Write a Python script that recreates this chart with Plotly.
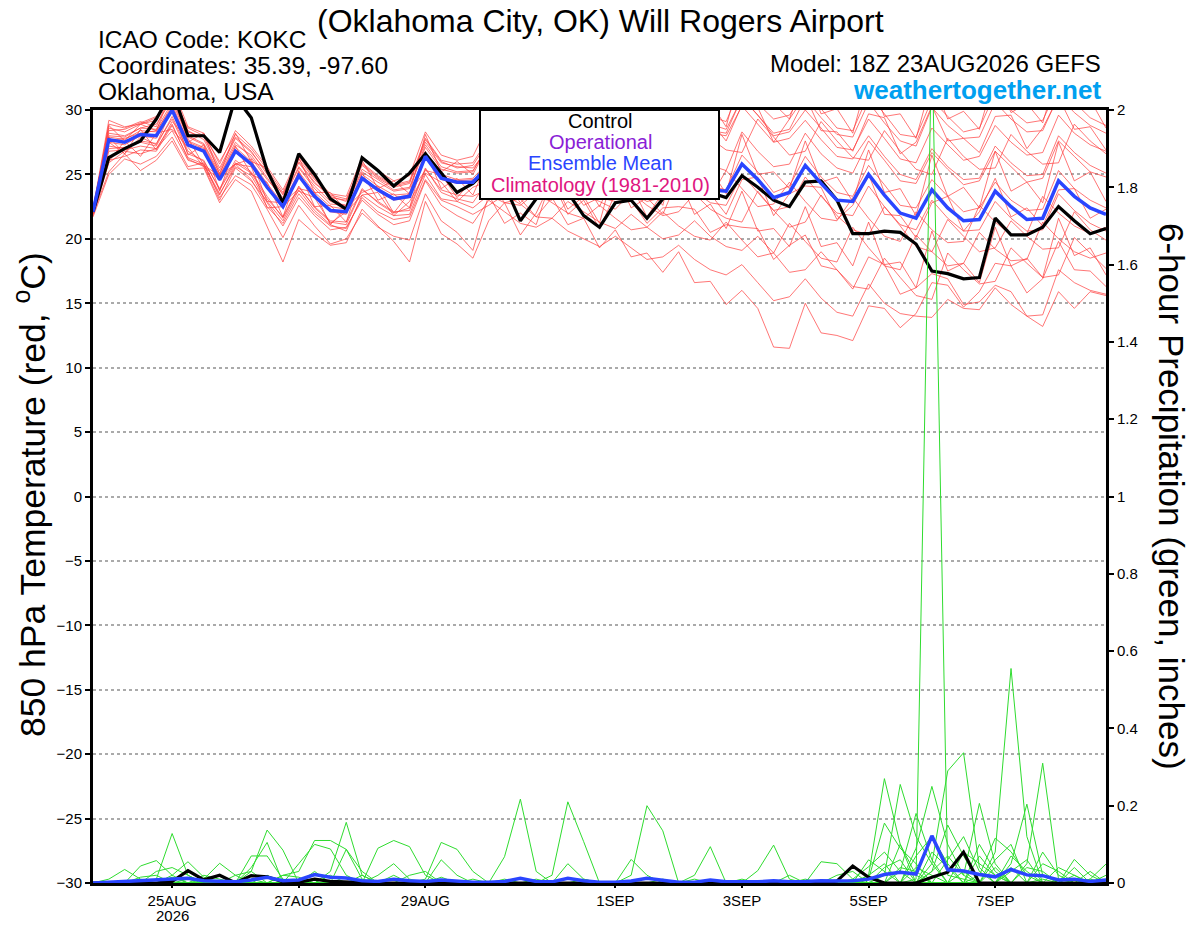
import pandas as pd
import plotly.graph_objects as go

# 6-hourly GEFS steps, 18Z 23AUG2026 -> 18Z 08SEP2026
times = pd.date_range('2026-08-23 18:00', periods=65, freq='6h')

tick_dates = ['2026-08-25', '2026-08-27', '2026-08-29', '2026-09-01',
              '2026-09-03', '2026-09-05', '2026-09-07']
tick_text = ['25AUG', '27AUG', '29AUG', '1SEP', '3SEP', '5SEP', '7SEP']
year_label = '2026'
temp_ticks = [-30, -25, -20, -15, -10, -5, 0, 5, 10, 15, 20, 25, 30]

# 850 hPa temperature (C)
temp_control = [
    22.1, 26.3, 27.0, 27.6, 29.3, 31.5, 28.0, 28.0, 26.7, 31.0, 29.4, 25.3, 22.8,
    26.6, 25.0, 23.1, 22.3, 26.3, 25.3, 24.1, 25.1, 26.6, 25.1, 23.6, 24.3, 25.5,
    24.2, 21.4, 23.1, 24.0, 23.6, 21.8, 20.9, 22.8, 23.0, 21.6, 23.1, 24.2, 24.5,
    23.6, 23.2, 24.9, 24.0, 23.0, 22.5, 24.4, 24.5, 23.0, 20.4, 20.4, 20.6, 20.5,
    19.6, 17.5, 17.3, 16.9, 17.0, 21.6, 20.3, 20.3, 20.9, 22.5, 21.4, 20.4, 20.8]
temp_mean = [
    22.1, 27.7, 27.5, 28.1, 28.0, 30.0, 27.3, 26.8, 24.6, 26.8, 25.8, 24.0, 22.5,
    24.9, 23.3, 22.2, 22.1, 24.7, 23.8, 23.1, 23.3, 26.4, 24.7, 24.4, 24.4, 25.7,
    24.8, 24.0, 24.3, 25.6, 24.7, 24.0, 23.7, 25.3, 24.4, 23.9, 24.1, 25.6, 24.6,
    23.8, 23.7, 25.8, 24.6, 23.2, 23.6, 25.7, 24.3, 23.0, 22.9, 25.0, 23.4, 22.0,
    21.6, 23.8, 22.4, 21.4, 21.5, 23.7, 22.5, 21.5, 21.6, 24.5, 23.3, 22.4, 21.9]

temp_mem_01 = [
    22.0, 28.2, 28.0, 28.6, 28.9, 30.8, 28.0, 27.4, 25.1, 27.5, 26.3, 24.6, 23.2, 25.6, 24.1, 22.9, 22.6, 25.4, 24.6, 23.8, 24.0, 27.3, 25.6, 25.2, 25.3,
    27.2, 26.9, 25.1, 26.6, 28.8, 26.5, 27.3, 25.4, 28.6, 28.9, 26.8, 28.3, 30.9, 28.7, 29.1, 27.6, 30.4, 30.2, 27.5, 29.3,
    31.1, 28.4, 28.3, 26.8, 29.7, 29.4, 26.6, 27.5, 30.3, 27.6, 27.8, 26.7, 29.5, 29.6, 27.0, 28.6, 31.0, 28.5, 28.7, 26.9]
temp_mem_02 = [
    22.3, 27.0, 27.1, 27.5, 27.2, 29.5, 26.8, 26.0, 23.9, 26.1, 25.2, 23.3, 21.6, 24.0, 22.5, 21.4, 21.3, 23.9, 22.8, 22.0, 22.4, 25.5, 23.6, 23.1, 22.8,
    24.6, 22.8, 23.1, 21.7, 23.2, 21.1, 21.6, 19.3, 20.7, 18.6, 18.9, 17.4, 19.0, 16.6, 16.7, 14.9, 16.0, 14.6, 11.6, 11.5,
    15.0, 12.7, 12.5, 12.1, 14.8, 14.6, 13.1, 14.2, 16.6, 16.4, 14.7, 15.9, 18.1, 17.9, 15.8, 16.9, 19.8, 17.6, 17.5, 16.3]
temp_mem_03 = [
    22.0, 26.0, 27.6, 26.4, 28.2, 28.5, 27.1, 25.6, 24.6, 25.8, 25.6, 22.4, 22.5, 23.7, 23.2, 21.2, 22.1, 23.4, 23.6, 21.8, 22.9, 25.1, 24.4, 22.9, 24.0,
    24.5, 24.6, 22.8, 23.9, 24.1, 24.3, 22.6, 23.2, 22.9, 23.0, 21.2, 22.4, 22.5, 22.3, 20.5, 21.1, 20.9, 20.8, 18.4, 19.5,
    20.3, 17.9, 17.6, 16.1, 18.6, 18.0, 15.7, 16.2, 17.3, 16.9, 14.9, 15.1, 16.4, 15.9, 14.0, 13.2, 15.9, 14.6, 15.9, 15.6]
temp_mem_04 = [
    21.8, 25.9, 26.8, 26.6, 27.0, 28.4, 26.1, 25.7, 23.4, 25.8, 24.6, 22.5, 21.2, 23.5, 22.0, 21.0, 20.8, 23.2, 22.1, 21.5, 21.7, 24.6, 23.0, 22.5, 21.9,
    22.6, 23.4, 22.7, 21.7, 21.6, 22.9, 22.1, 21.3, 20.8, 21.9, 20.9, 20.0, 20.3, 21.4, 20.2, 19.4, 19.1, 20.2, 18.9, 17.4,
    17.6, 19.0, 17.6, 16.3, 16.1, 18.5, 17.0, 15.6, 15.3, 18.9, 17.6, 16.5, 16.7, 19.3, 18.1, 17.0, 17.2, 20.1, 18.9, 17.7]
temp_mem_05 = [
    22.1, 27.9, 27.7, 28.4, 28.3, 30.4, 27.6, 27.1, 24.9, 27.1, 26.0, 24.3, 22.7, 25.2, 23.6, 22.5, 22.3, 25.0, 24.1, 23.4, 23.5, 26.7, 25.0, 24.6, 24.7,
    26.0, 25.1, 24.5, 24.6, 26.0, 25.2, 24.4, 24.0, 25.8, 24.6, 24.1, 24.4, 26.0, 24.9, 24.1, 23.8, 26.5, 25.2, 23.6, 24.1,
    26.4, 24.8, 23.6, 23.3, 25.7, 24.2, 22.6, 22.4, 24.6, 23.3, 22.1, 22.4, 24.4, 23.0, 22.2, 22.3, 25.3, 23.9, 23.0, 22.4]
temp_mem_06 = [
    22.2, 28.6, 28.3, 28.9, 29.2, 31.2, 28.3, 27.9, 25.5, 27.9, 26.8, 25.0, 23.5, 26.0, 24.4, 23.2, 23.0, 25.9, 24.9, 24.2, 24.5, 27.8, 26.1, 25.8, 25.9,
    27.8, 27.1, 26.1, 26.5, 29.0, 28.0, 27.6, 27.0, 29.8, 28.8, 28.1, 28.4, 31.4, 30.2, 29.5, 29.1, 32.0, 30.5, 29.3, 29.6,
    31.5, 30.1, 28.6, 28.4, 31.2, 29.7, 28.1, 27.9, 30.8, 29.5, 28.3, 28.6, 31.3, 30.0, 29.0, 29.2, 31.8, 30.6, 29.4, 28.8]
temp_mem_07 = [
    22.0, 27.2, 27.0, 27.6, 27.4, 29.3, 26.6, 26.1, 23.8, 25.9, 25.1, 23.1, 21.7, 24.1, 22.4, 21.3, 21.1, 23.8, 22.9, 22.1, 22.2, 25.4, 23.8, 23.4, 23.3,
    23.9, 24.7, 23.8, 23.1, 23.0, 24.4, 23.4, 22.9, 22.3, 23.6, 22.6, 21.8, 22.1, 23.5, 22.3, 21.6, 21.3, 23.7, 22.2, 20.9,
    21.3, 23.4, 21.8, 20.7, 20.3, 22.5, 21.0, 19.4, 19.0, 21.5, 20.2, 19.0, 19.3, 21.4, 20.2, 19.2, 19.3, 22.1, 20.7, 19.9]
temp_mem_08 = [
    22.1, 28.9, 28.6, 29.1, 28.7, 31.5, 28.4, 27.7, 25.3, 27.8, 26.7, 25.2, 23.4, 25.9, 24.3, 23.4, 23.1, 25.8, 24.8, 24.1, 24.4, 27.5, 25.9, 25.6, 25.5,
    27.0, 26.3, 25.4, 25.7, 27.4, 26.5, 25.8, 25.5, 27.3, 26.1, 25.6, 25.9, 27.6, 26.5, 25.7, 25.3, 28.3, 26.8, 25.6, 25.8,
    28.2, 26.6, 25.5, 25.1, 27.6, 26.1, 24.5, 24.3, 26.7, 25.4, 24.2, 24.5, 26.8, 25.6, 24.4, 24.7, 27.6, 26.4, 25.2, 24.8]
temp_mem_09 = [
    21.9, 25.2, 26.6, 25.3, 26.1, 27.6, 25.4, 25.5, 22.8, 24.6, 23.7, 21.0, 18.2, 21.5, 20.4, 19.5, 19.7, 22.3, 21.0, 19.8, 18.2, 22.9, 20.4, 19.6, 18.5,
    21.4, 22.8, 20.3, 22.0, 24.6, 21.9, 23.0, 20.8, 23.5, 24.2, 21.7, 23.6, 25.9, 23.1, 23.5, 21.9, 24.6, 24.8, 21.8, 23.5,
    24.1, 24.0, 21.5, 22.6, 25.0, 21.9, 21.8, 20.1, 22.8, 23.3, 20.6, 22.1, 24.7, 21.7, 22.4, 21.0, 23.8, 23.9, 21.6, 22.3]
temp_mem_10 = [
    22.0, 26.1, 26.4, 26.9, 26.8, 28.8, 26.3, 25.8, 23.5, 25.6, 24.9, 22.8, 21.0, 23.2, 21.8, 20.7, 20.9, 23.0, 21.9, 21.1, 21.4, 24.5, 22.6, 21.8, 21.2,
    23.0, 22.1, 21.2, 20.9, 21.6, 20.6, 20.0, 19.4, 20.2, 19.3, 18.4, 18.6, 19.5, 18.4, 17.6, 17.2, 18.0, 16.6, 15.2, 15.5,
    16.9, 15.4, 14.3, 14.0, 16.5, 15.0, 14.2, 14.0, 13.9, 15.3, 14.6, 14.5, 16.2, 14.9, 14.0, 14.1, 17.6, 16.6, 16.0, 15.7]
temp_mem_11 = [
    22.2, 28.0, 27.9, 28.6, 28.5, 30.6, 27.9, 27.3, 24.9, 27.3, 26.5, 24.7, 23.0, 25.5, 23.9, 22.7, 22.6, 25.2, 24.4, 23.7, 23.9, 27.1, 25.4, 25.1, 25.2,
    27.5, 26.6, 26.0, 26.2, 28.7, 27.8, 27.1, 26.8, 29.4, 28.4, 27.5, 27.8, 30.8, 29.6, 28.9, 28.5, 30.9, 29.6, 28.0, 28.3,
    30.0, 28.6, 27.1, 26.9, 29.3, 27.8, 26.2, 25.9, 28.6, 27.3, 26.1, 26.4, 28.8, 27.5, 26.5, 26.7, 29.6, 28.2, 27.3, 26.8]
temp_mem_12 = [
    21.9, 26.8, 26.9, 27.2, 27.0, 28.9, 26.2, 25.6, 23.0, 25.5, 24.5, 22.9, 21.4, 23.8, 22.2, 21.1, 20.6, 23.4, 22.5, 21.8, 21.9, 25.0, 23.1, 22.9, 22.4,
    23.4, 22.8, 22.6, 23.6, 22.8, 22.0, 21.6, 22.6, 21.6, 20.7, 20.9, 22.1, 21.0, 20.2, 19.9, 21.3, 19.9, 18.6, 18.9, 21.2,
    19.8, 18.5, 18.2, 20.9, 19.3, 17.9, 17.6, 20.3, 19.0, 17.9, 18.1, 20.5, 19.2, 18.3, 18.4, 21.3, 20.0, 19.0, 18.5, 18.9]
temp_mem_13 = [
    22.3, 29.2, 28.7, 28.9, 29.4, 31.8, 28.7, 28.2, 25.8, 28.4, 27.2, 25.6, 23.8, 26.4, 24.7, 23.5, 23.3, 26.3, 25.3, 24.5, 24.9, 28.3, 26.5, 26.1, 26.4,
    28.9, 26.8, 27.4, 26.4, 30.5, 28.0, 29.1, 26.9, 31.3, 28.5, 29.6, 28.3, 32.5, 29.8, 30.6, 28.7, 33.3, 30.2, 30.5, 29.3,
    32.9, 29.7, 30.1, 28.2, 32.7, 29.5, 29.7, 27.8, 32.3, 29.3, 29.9, 28.5, 32.8, 29.8, 30.5, 29.0, 33.2, 30.3, 30.8, 28.6]
temp_mem_14 = [
    22.1, 27.9, 26.6, 28.5, 26.9, 29.1, 27.8, 25.7, 24.9, 25.8, 26.2, 22.9, 22.8, 23.9, 23.6, 21.1, 22.4, 23.6, 24.1, 22.0, 23.6, 25.3, 25.0, 23.2, 24.6,
    25.2, 24.4, 23.6, 23.8, 25.1, 24.2, 23.6, 23.1, 24.7, 23.6, 22.9, 23.2, 24.8, 23.7, 22.8, 22.6, 25.0, 23.6, 22.2, 22.5,
    24.8, 23.3, 22.0, 21.8, 24.1, 22.5, 21.1, 20.7, 23.0, 21.6, 20.6, 20.7, 22.9, 21.6, 20.6, 20.7, 23.5, 22.2, 21.2, 20.6]
temp_mem_15 = [
    22.0, 27.6, 27.8, 28.2, 28.4, 30.2, 27.5, 27.0, 24.7, 26.9, 25.9, 24.1, 22.6, 25.0, 23.4, 22.3, 22.0, 24.8, 23.9, 23.2, 23.4, 26.5, 24.8, 24.5, 24.6,
    25.2, 26.4, 25.6, 24.8, 25.1, 27.2, 26.3, 25.7, 25.2, 27.8, 26.7, 26.0, 26.3, 28.9, 27.8, 26.9, 26.7, 29.3, 27.9, 26.5,
    26.8, 29.1, 27.6, 26.3, 26.1, 28.4, 26.8, 25.4, 25.0, 27.8, 26.4, 25.4, 25.5, 28.1, 26.8, 25.8, 25.9, 28.9, 27.6, 26.6]
temp_mem_16 = [
    21.7, 25.0, 26.2, 25.8, 26.4, 27.9, 25.6, 25.9, 23.2, 24.9, 24.2, 22.3, 20.1, 22.6, 21.0, 19.6, 20.0, 22.0, 20.9, 20.2, 19.9, 23.5, 21.4, 20.5, 19.1,
    23.4, 21.2, 22.0, 21.1, 24.8, 22.3, 23.3, 21.2, 25.8, 23.1, 24.0, 22.6, 27.5, 24.7, 25.4, 23.5, 28.1, 25.0, 25.2, 23.9,
    27.6, 24.4, 24.8, 22.9, 26.9, 23.6, 23.9, 21.8, 26.5, 23.3, 24.0, 22.4, 26.8, 23.7, 24.4, 22.8, 27.5, 24.5, 25.2, 22.9]
temp_mem_17 = [
    22.4, 28.4, 28.5, 29.0, 29.5, 31.0, 28.6, 28.0, 26.0, 28.1, 27.0, 25.4, 23.6, 26.2, 24.6, 23.3, 22.9, 25.7, 24.7, 24.0, 24.3, 27.7, 26.0, 25.5, 25.7,
    27.6, 26.8, 26.1, 26.4, 28.6, 27.7, 27.1, 26.6, 29.5, 28.4, 27.7, 28.0, 30.4, 29.3, 28.4, 28.2, 31.0, 29.6, 28.2, 28.5,
    30.9, 29.4, 28.1, 27.9, 30.6, 29.0, 27.6, 27.2, 30.2, 28.8, 27.8, 27.9, 30.6, 29.3, 28.3, 28.4, 31.1, 29.8, 28.8, 28.2]
temp_mem_18 = [
    22.0, 27.5, 26.6, 27.9, 27.3, 30.2, 26.5, 27.3, 23.7, 27.2, 25.0, 24.4, 21.7, 25.3, 22.5, 22.6, 21.3, 25.1, 23.0, 23.5, 22.4, 26.8, 23.9, 24.7, 23.4,
    26.2, 24.0, 24.6, 23.1, 26.1, 23.6, 24.5, 22.5, 25.1, 22.4, 23.2, 21.9, 24.8, 21.9, 22.7, 20.8, 23.7, 20.6, 20.8, 19.4,
    22.5, 19.4, 19.7, 17.9, 21.3, 18.0, 18.2, 16.2, 20.6, 17.5, 18.1, 16.6, 20.9, 17.9, 18.5, 17.0, 21.6, 18.7, 19.3, 17.2]
temp_mem_19 = [
    22.1, 27.5, 27.3, 28.0, 27.8, 30.1, 27.2, 26.9, 24.5, 26.7, 25.8, 23.9, 22.4, 24.8, 23.2, 22.1, 21.9, 24.6, 23.7, 23.0, 23.2, 26.3, 24.6, 24.3, 24.3,
    25.0, 24.2, 24.4, 25.8, 24.9, 24.3, 23.8, 25.4, 24.3, 23.6, 23.9, 25.4, 24.3, 23.4, 23.2, 25.3, 23.9, 22.5, 22.7, 24.4,
    22.9, 21.6, 21.4, 23.2, 21.6, 20.2, 19.8, 22.1, 20.7, 19.7, 19.8, 22.6, 21.3, 20.3, 20.4, 23.3, 22.0, 21.0, 20.4, 20.9]
temp_mem_20 = [
    22.2, 28.8, 27.6, 28.9, 28.4, 31.5, 27.5, 28.2, 25.0, 28.2, 26.0, 25.5, 22.7, 26.3, 23.6, 23.6, 22.2, 26.1, 23.9, 24.5, 23.5, 28.1, 25.2, 26.0, 25.0,
    27.3, 26.5, 25.7, 26.0, 28.5, 27.6, 27.0, 26.5, 29.1, 28.0, 27.3, 27.6, 30.2, 29.1, 28.2, 28.0, 30.3, 28.9, 27.5, 27.8,
    29.2, 27.7, 26.4, 26.2, 28.0, 26.4, 25.0, 24.6, 27.0, 25.6, 24.6, 24.7, 27.2, 25.9, 24.9, 25.0, 28.0, 26.7, 25.7, 25.1]

# 6-hour precipitation (inches)
precip_control = [
    0, 0, 0, 0, 0, 0.004, 0.032, 0.008, 0.02, 0, 0.019, 0.016, 0.003,
    0.002, 0.01, 0.004, 0.002, 0, 0, 0, 0, 0, 0, 0, 0, 0,
    0, 0, 0, 0, 0, 0, 0, 0, 0, 0, 0, 0, 0,
    0, 0, 0, 0, 0, 0, 0, 0, 0.005, 0.044, 0.015, 0, 0,
    0, 0.015, 0.028, 0.08, 0, 0, 0, 0, 0, 0, 0, 0, 0]
precip_mean = [
    0.0, 0.002, 0.004, 0.006, 0.008, 0.012, 0.012, 0.006, 0.005, 0.003, 0.008, 0.015, 0.006,
    0.008, 0.022, 0.015, 0.013, 0.006, 0.004, 0.01, 0.006, 0.004, 0.008, 0.004, 0.002, 0.002,
    0.004, 0.012, 0.004, 0.003, 0.012, 0.006, 0.002, 0.002, 0.005, 0.012, 0.008, 0.002, 0.002,
    0.008, 0.003, 0.003, 0.003, 0.006, 0.003, 0.004, 0.006, 0.005, 0.006, 0.01, 0.022, 0.028,
    0.023, 0.122, 0.034, 0.031, 0.022, 0.016, 0.035, 0.021, 0.019, 0.008, 0.01, 0.004, 0.008]

precip_mem_01 = [
    0, 0, 0, 0, 0, 0, 0, 0, 0, 0, 0.07, 0.07, 0.01,
    0, 0, 0, 0, 0, 0, 0, 0, 0, 0, 0, 0, 0,
    0.068, 0.217, 0.03, 0, 0, 0, 0, 0, 0, 0, 0, 0, 0,
    0, 0, 0, 0, 0, 0, 0, 0, 0, 0, 0, 0, 0,
    0.01, 2.2, 0.02, 0.01, 0, 0, 0, 0, 0, 0, 0, 0, 0]
precip_mem_02 = [
    0, 0, 0, 0, 0.01, 0.128, 0.02, 0, 0, 0, 0, 0, 0,
    0, 0, 0, 0, 0, 0, 0, 0, 0, 0, 0, 0, 0,
    0, 0, 0, 0.02, 0.21, 0.107, 0, 0, 0, 0, 0, 0, 0,
    0, 0, 0, 0, 0, 0, 0, 0, 0, 0, 0.02, 0.27, 0.1,
    0, 0, 0, 0, 0, 0.08, 0.555, 0.12, 0, 0, 0, 0, 0]
precip_mem_03 = [
    0, 0, 0, 0, 0, 0, 0, 0, 0, 0, 0, 0, 0,
    0, 0, 0.03, 0.157, 0.02, 0, 0, 0, 0, 0, 0, 0, 0,
    0, 0, 0, 0, 0, 0, 0, 0, 0.02, 0.2, 0.135, 0, 0,
    0, 0, 0, 0, 0, 0, 0, 0, 0, 0, 0, 0.02, 0.255,
    0.12, 0.05, 0, 0, 0, 0, 0, 0.05, 0.31, 0.01, 0, 0, 0]
precip_mem_04 = [
    0, 0, 0, 0, 0, 0, 0, 0, 0, 0, 0, 0, 0.02,
    0.03, 0.11, 0.11, 0.087, 0.01, 0, 0, 0, 0, 0, 0, 0, 0,
    0, 0, 0, 0, 0, 0, 0, 0, 0, 0, 0, 0, 0.02,
    0.094, 0, 0, 0, 0, 0, 0, 0, 0, 0, 0, 0, 0,
    0, 0.05, 0.29, 0.337, 0.04, 0, 0, 0, 0, 0, 0, 0, 0]
precip_mem_05 = [
    0, 0, 0, 0, 0, 0, 0, 0, 0, 0, 0, 0, 0,
    0, 0, 0, 0, 0, 0.09, 0.11, 0.094, 0.02, 0, 0, 0, 0,
    0, 0, 0, 0, 0, 0, 0, 0, 0, 0, 0, 0, 0,
    0, 0, 0, 0.032, 0.098, 0.01, 0, 0, 0, 0, 0, 0, 0.03,
    0.18, 0.06, 0, 0, 0, 0, 0.05, 0.204, 0.02, 0, 0, 0, 0]
precip_mem_06 = [
    0, 0, 0, 0, 0, 0, 0, 0, 0, 0, 0.03, 0.137, 0.085,
    0, 0, 0, 0, 0, 0, 0, 0, 0.01, 0.105, 0.087, 0.03, 0,
    0, 0, 0, 0, 0, 0, 0, 0, 0, 0, 0, 0, 0,
    0, 0, 0, 0, 0, 0, 0, 0, 0, 0, 0, 0, 0,
    0.09, 0.25, 0.1, 0.02, 0.206, 0.05, 0, 0, 0, 0, 0, 0, 0]
precip_mem_07 = [
    0, 0, 0, 0, 0, 0, 0, 0.01, 0.051, 0.02, 0, 0, 0,
    0, 0, 0, 0, 0, 0, 0, 0, 0, 0, 0, 0, 0,
    0, 0, 0, 0, 0, 0, 0, 0, 0.061, 0.02, 0, 0, 0,
    0, 0, 0, 0, 0, 0, 0, 0, 0, 0, 0.01, 0.155, 0.09,
    0.05, 0, 0, 0, 0.02, 0.116, 0.081, 0.02, 0, 0, 0.061, 0.02, 0]
precip_mem_08 = [
    0, 0, 0, 0, 0, 0.02, 0.055, 0.015, 0, 0, 0.04, 0.105, 0,
    0, 0, 0, 0, 0, 0, 0, 0, 0, 0, 0, 0, 0,
    0, 0, 0, 0, 0, 0, 0, 0, 0, 0, 0, 0, 0,
    0, 0, 0, 0, 0, 0, 0, 0.055, 0.05, 0.01, 0, 0, 0,
    0, 0.03, 0.15, 0.07, 0, 0, 0, 0, 0, 0, 0, 0.01, 0.049]
precip_mem_09 = [
    0, 0, 0, 0.044, 0.058, 0.02, 0, 0, 0, 0, 0, 0, 0,
    0, 0, 0, 0, 0, 0.02, 0.05, 0.01, 0, 0, 0, 0, 0,
    0, 0, 0, 0, 0, 0, 0, 0, 0, 0, 0, 0, 0,
    0, 0, 0, 0, 0, 0, 0, 0, 0, 0.01, 0.042, 0.08, 0.03,
    0, 0, 0, 0, 0, 0, 0, 0, 0.05, 0.03, 0, 0, 0]
precip_mem_10 = [
    0, 0, 0, 0, 0, 0, 0, 0, 0, 0, 0, 0, 0,
    0.05, 0.1, 0.088, 0.02, 0, 0, 0, 0, 0, 0.06, 0.02, 0, 0,
    0, 0, 0, 0, 0, 0, 0, 0, 0, 0, 0, 0, 0,
    0, 0, 0, 0, 0, 0, 0, 0, 0, 0, 0, 0, 0,
    0.07, 0.12, 0.05, 0, 0, 0, 0.03, 0.06, 0, 0, 0, 0, 0]
precip_mem_11 = [
    0, 0.01, 0.035, 0.01, 0, 0, 0, 0, 0, 0, 0, 0, 0,
    0, 0, 0, 0.087, 0.03, 0, 0, 0, 0, 0, 0, 0, 0,
    0, 0, 0, 0, 0.05, 0.01, 0, 0, 0, 0, 0, 0, 0,
    0, 0, 0, 0, 0, 0, 0, 0, 0, 0, 0, 0, 0,
    0, 0, 0, 0.08, 0.05, 0.02, 0, 0, 0.01, 0, 0, 0, 0]
precip_mem_12 = [
    0, 0, 0, 0, 0.03, 0.04, 0.02, 0, 0, 0, 0, 0, 0,
    0, 0, 0, 0, 0, 0, 0, 0, 0, 0, 0, 0.01, 0,
    0, 0, 0, 0, 0, 0, 0, 0, 0, 0, 0, 0, 0.01,
    0, 0, 0, 0, 0, 0, 0, 0, 0, 0, 0, 0.04, 0.06,
    0, 0, 0, 0.03, 0, 0.04, 0, 0, 0, 0, 0.02, 0, 0]
precip_mem_13 = [
    0, 0, 0, 0, 0, 0, 0, 0, 0, 0.02, 0.03, 0, 0,
    0, 0, 0, 0, 0, 0, 0, 0.02, 0.03, 0, 0, 0, 0,
    0, 0, 0, 0, 0, 0, 0, 0, 0, 0, 0, 0, 0,
    0, 0, 0, 0, 0, 0.02, 0, 0, 0, 0, 0.06, 0.03, 0,
    0, 0, 0, 0, 0.1, 0.03, 0, 0, 0, 0, 0, 0.03, 0]
precip_mem_14 = [
    0, 0, 0, 0.015, 0.02, 0, 0, 0, 0, 0, 0, 0, 0.02,
    0.015, 0, 0, 0, 0, 0, 0, 0, 0, 0, 0, 0, 0,
    0, 0, 0, 0, 0, 0, 0, 0, 0, 0, 0.01, 0, 0,
    0, 0, 0, 0, 0, 0, 0, 0, 0.02, 0.03, 0, 0, 0,
    0, 0.08, 0.04, 0, 0, 0, 0, 0, 0, 0.04, 0.02, 0, 0]
precip_mem_15 = [
    0, 0, 0, 0, 0, 0, 0.01, 0, 0, 0, 0, 0, 0,
    0, 0, 0, 0, 0.02, 0, 0, 0, 0, 0, 0, 0, 0,
    0, 0, 0.01, 0, 0, 0, 0, 0, 0, 0, 0, 0, 0,
    0, 0, 0, 0, 0, 0, 0, 0, 0, 0, 0, 0, 0.1,
    0.02, 0, 0, 0, 0, 0, 0.07, 0.03, 0, 0, 0, 0, 0.02]
precip_mem_16 = [
    0, 0, 0, 0, 0, 0, 0, 0, 0, 0, 0, 0.02, 0,
    0, 0, 0, 0, 0, 0, 0.02, 0, 0, 0, 0, 0, 0,
    0, 0, 0, 0, 0, 0, 0, 0, 0, 0, 0, 0, 0,
    0, 0, 0, 0, 0, 0, 0, 0, 0, 0, 0, 0, 0,
    0, 0, 0.06, 0.12, 0.03, 0, 0, 0, 0.08, 0.02, 0, 0, 0]
precip_mem_17 = [
    0, 0, 0, 0, 0, 0, 0, 0.02, 0.01, 0, 0, 0, 0,
    0, 0, 0, 0, 0, 0, 0, 0, 0, 0.015, 0, 0, 0,
    0, 0, 0, 0, 0, 0, 0, 0, 0, 0, 0, 0, 0,
    0, 0, 0, 0, 0, 0, 0.01, 0, 0, 0, 0, 0, 0,
    0.04, 0.02, 0, 0, 0, 0.06, 0.1, 0, 0, 0, 0, 0.01, 0]
precip_mem_18 = [
    0, 0, 0, 0, 0, 0, 0, 0, 0, 0, 0, 0, 0,
    0, 0.03, 0, 0, 0, 0, 0, 0, 0, 0, 0, 0, 0,
    0.01, 0, 0, 0, 0, 0, 0, 0, 0, 0, 0, 0, 0,
    0, 0, 0, 0, 0, 0, 0, 0, 0, 0, 0.02, 0.05, 0,
    0, 0, 0, 0, 0.07, 0.02, 0, 0, 0, 0, 0.04, 0, 0]
precip_mem_19 = [
    0, 0, 0, 0, 0, 0.015, 0, 0, 0, 0, 0.01, 0, 0,
    0, 0, 0, 0, 0, 0, 0, 0, 0, 0, 0, 0, 0,
    0, 0, 0, 0, 0, 0.01, 0, 0, 0, 0, 0, 0, 0,
    0, 0, 0, 0, 0, 0, 0, 0, 0, 0, 0, 0, 0,
    0, 0.03, 0.07, 0.02, 0, 0, 0, 0.04, 0.03, 0, 0, 0, 0]
precip_mem_20 = [
    0, 0, 0, 0, 0, 0, 0, 0, 0.02, 0, 0, 0, 0,
    0, 0, 0.02, 0, 0, 0, 0, 0, 0, 0, 0, 0, 0,
    0, 0, 0, 0, 0, 0, 0, 0, 0, 0, 0, 0, 0,
    0, 0, 0.01, 0, 0, 0, 0, 0, 0, 0, 0, 0, 0.04,
    0.03, 0, 0, 0, 0, 0, 0.04, 0, 0, 0, 0, 0, 0.01]

temp_members = [temp_mem_01, temp_mem_02, temp_mem_03, temp_mem_04, temp_mem_05,
                temp_mem_06, temp_mem_07, temp_mem_08, temp_mem_09, temp_mem_10,
                temp_mem_11, temp_mem_12, temp_mem_13, temp_mem_14, temp_mem_15,
                temp_mem_16, temp_mem_17, temp_mem_18, temp_mem_19, temp_mem_20]
precip_members = [precip_mem_01, precip_mem_02, precip_mem_03, precip_mem_04, precip_mem_05,
                  precip_mem_06, precip_mem_07, precip_mem_08, precip_mem_09, precip_mem_10,
                  precip_mem_11, precip_mem_12, precip_mem_13, precip_mem_14, precip_mem_15,
                  precip_mem_16, precip_mem_17, precip_mem_18, precip_mem_19, precip_mem_20]

for s in temp_members + precip_members + [temp_control, temp_mean, precip_control, precip_mean]:
    assert len(s) == len(times), len(s)

# figure fills the page; the body margin is removed after plotting
FIG_W, FIG_H = 1200, 927
# plot box as seen in the reference picture (page pixels)
BOX_L, BOX_R, BOX_T, BOX_B = 93, 1106, 110, 883
ML, MT = BOX_L, BOX_T
MR, MB = FIG_W - BOX_R, FIG_H - BOX_B


def px(x):
    return (x - BOX_L) / (BOX_R - BOX_L)


def py(y):
    return (BOX_B - y) / (BOX_B - BOX_T)


def main():
    fig = go.Figure()

    for m in temp_members:
        fig.add_trace(go.Scatter(x=times, y=m, mode='lines', yaxis='y',
                                 line=dict(color='rgba(255,60,60,0.7)', width=1),
                                 hoverinfo='skip', showlegend=False))
    for m in precip_members:
        fig.add_trace(go.Scatter(x=times, y=m, mode='lines', yaxis='y2',
                                 line=dict(color='#2fdc2f', width=1),
                                 hoverinfo='skip', showlegend=False))

    fig.add_trace(go.Scatter(x=times, y=temp_control, mode='lines', yaxis='y',
                             line=dict(color='black', width=3.2), name='Control'))
    fig.add_trace(go.Scatter(x=times, y=temp_mean, mode='lines', yaxis='y',
                             line=dict(color='#2a45ff', width=3.5), name='Ensemble Mean'))
    fig.add_trace(go.Scatter(x=times, y=precip_control, mode='lines', yaxis='y2',
                             line=dict(color='black', width=3.2), name='Control'))
    fig.add_trace(go.Scatter(x=times, y=precip_mean, mode='lines', yaxis='y2',
                             line=dict(color='#2a45ff', width=3.5), name='Ensemble Mean'))

    annotations = [
        dict(text='(Oklahoma City, OK) Will Rogers Airport', x=px(600), y=py(21),
             xanchor='center', yanchor='middle', font=dict(size=32)),
        dict(text='ICAO Code: KOKC', x=px(96), y=py(40), xanchor='left', yanchor='middle',
             font=dict(size=24.5)),
        dict(text='Coordinates: 35.39, -97.60', x=px(96), y=py(66), xanchor='left',
             yanchor='middle', font=dict(size=24.5)),
        dict(text='Oklahoma, USA', x=px(96), y=py(92), xanchor='left', yanchor='middle',
             font=dict(size=24.5)),
        dict(text='Model: 18Z 23AUG2026 GEFS', x=px(1103), y=py(63), xanchor='right',
             yanchor='middle', font=dict(size=24)),
        dict(text='<b>weathertogether.net</b>', x=px(1103), y=py(90), xanchor='right',
             yanchor='middle', font=dict(size=26, color='#00a0f0')),
        dict(text='850 hPa Temperature (red, <sup>o</sup>C)', x=px(30), y=py(495),
             textangle=-90, xanchor='center', yanchor='middle', font=dict(size=35.5)),
        dict(text='6-hour Precipitation (green, inches)', x=px(1172), y=py(496),
             textangle=90, xanchor='center', yanchor='middle', font=dict(size=35)),
        dict(text='Control', x=px(600), y=py(121), xanchor='center', yanchor='middle',
             font=dict(size=20, color='black')),
        dict(text='Operational', x=px(600), y=py(142), xanchor='center', yanchor='middle',
             font=dict(size=20, color='#8a1ed6')),
        dict(text='Ensemble Mean', x=px(600), y=py(163), xanchor='center', yanchor='middle',
             font=dict(size=20, color='#2a45ff')),
        dict(text='Climatology (1981-2010)', x=px(600), y=py(185), xanchor='center',
             yanchor='middle', font=dict(size=20, color='#e0167f')),
    ]
    for a in annotations:
        a.update(xref='paper', yref='paper', showarrow=False)
    # year under the first date label
    annotations.append(dict(text=year_label, x=tick_dates[0], xref='x', y=py(915),
                            yref='paper', xanchor='center', yanchor='middle',
                            showarrow=False, font=dict(size=15)))

    fig.update_layout(
        width=FIG_W, height=FIG_H,
        margin=dict(l=ML, r=MR, t=MT, b=MB, autoexpand=False),
        paper_bgcolor='white', plot_bgcolor='white',
        showlegend=False,
        font=dict(family='Liberation Sans, Arial, sans-serif', color='black', size=15),
        xaxis=dict(type='date', range=[times[0], times[-1]],
                   tickvals=tick_dates, ticktext=tick_text,
                   ticks='outside', ticklen=2, tickwidth=1.5, tickcolor='black',
                   showline=True, linecolor='black', linewidth=3, mirror=True,
                   showgrid=False, zeroline=False, automargin=False,
                   tickfont=dict(size=15)),
        yaxis=dict(range=[-30, 30], tickvals=temp_ticks,
                   ticks='outside', ticklen=5, tickwidth=1.5, tickcolor='black',
                   showline=True, linecolor='black', linewidth=3,
                   showgrid=True, gridcolor='#aaaaaa', griddash='dot', gridwidth=1.5,
                   zeroline=False, automargin=False, tickfont=dict(size=15)),
        yaxis2=dict(range=[0, 2], dtick=0.2, overlaying='y', side='right',
                    ticks='outside', ticklen=5, tickwidth=1.5, tickcolor='black',
                    showline=True, linecolor='black', linewidth=3,
                    showgrid=False, zeroline=False, automargin=False,
                    tickfont=dict(size=15)),
        annotations=annotations,
        shapes=[dict(type='rect', xref='paper', yref='paper',
                     x0=px(480), x1=px(719), y0=py(199), y1=py(110),
                     fillcolor='white', line=dict(color='black', width=2),
                     layer='above')],
    )

    # drop the browser's default 8px body margin so the figure sits at the page origin
    fig.write_html('out.html', config={'displayModeBar': False},
                   post_script="document.body.style.margin = '0';")


if __name__ == '__main__':
    main()
